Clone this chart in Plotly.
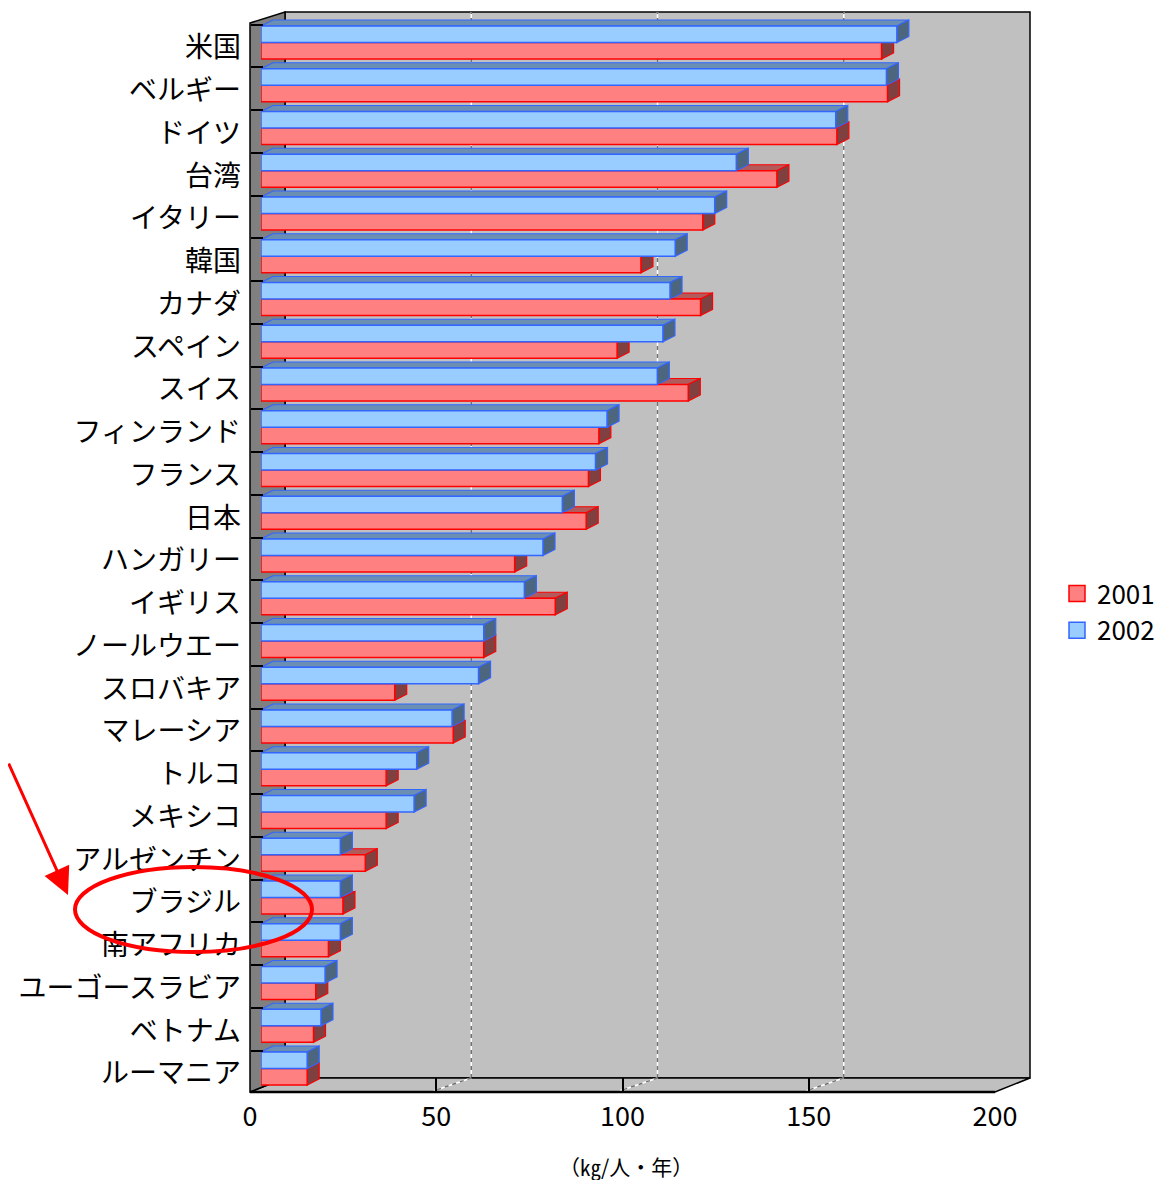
import plotly.graph_objects as go

countries = ["米国", "ベルギー", "ドイツ", "台湾", "イタリー", "韓国", "カナダ", "スペイン",
             "スイス", "フィンランド", "フランス", "日本", "ハンガリー", "イギリス", "ノールウエー",
             "スロバキア", "マレーシア", "トルコ", "メキシコ", "アルゼンチン", "ブラジル",
             "南アフリカ", "ユーゴースラビア", "ベトナム", "ルーマニア"]
v2001 = [166.6, 168.2, 154.6, 138.5, 118.6, 102.0, 118.0, 95.6, 114.7, 90.7, 87.9, 87.3,
         68.1, 79.0, 59.8, 35.9, 51.6, 33.6, 33.6, 28.0, 22.0, 18.1, 14.7, 14.1, 12.4]
v2002 = [170.7, 167.9, 154.3, 127.6, 121.8, 111.2, 109.8, 107.9, 106.4, 92.9, 89.8, 80.9,
         75.7, 70.7, 59.8, 58.4, 51.3, 41.8, 41.1, 21.3, 21.3, 21.3, 17.2, 16.1, 12.4]
series_names = ["2001", "2002"]
x_ticks = [0, 50, 100, 150, 200]
axis_title = "（㎏/人・年）"

# ---- geometry helpers (reference-pixel -> paper) ----
OFF = 8                       # page body margin of the html page
W_FIG, H_FIG = 1166 - OFF, 1180 - OFF
L, R, T, B = 250, 1006, 12, 1092
def px(x):
    return (x - L) / (R - L)
def py(y):
    return (B - y) / (B - T)

PX_PER_UNIT = 3.725
DEPTH = 35            # frame depth in px (x)
DEPTH_Y = 14          # frame depth in px (y)
BAR_DX = 12 / PX_PER_UNIT
BAR_DY = 6 / 42.75
BW = 16.5 / 42.75

red_front, red_line, red_top, red_side = "#FF8080", "#FF0000", "#B35A5A", "#804040"
blue_front, blue_line, blue_top, blue_side = "#99CCFF", "#3366FF", "#6B8FB3", "#4D6680"

shapes = []
# back wall
shapes.append(dict(type="rect", xref="paper", yref="paper", layer="below",
                   x0=px(L + DEPTH), x1=px(995 + DEPTH), y0=py(B - DEPTH_Y), y1=py(T),
                   fillcolor="#C0C0C0", line=dict(color="black", width=1.5)))
# back-wall gridlines
for v in x_ticks[1:-1]:
    xb = L + v * PX_PER_UNIT + DEPTH
    for col, dash in (("white", "solid"), ("#707070", "4px,4px")):
        shapes.append(dict(type="line", xref="paper", yref="paper", layer="below",
                           x0=px(xb), x1=px(xb), y0=py(B - DEPTH_Y), y1=py(T),
                           line=dict(color=col, width=1.5, dash=dash)))
# floor
shapes.append(dict(type="path", xref="paper", yref="paper", layer="below",
                   path=f"M {px(L)},{py(B)} L {px(L+DEPTH)},{py(B-DEPTH_Y)} L {px(995+DEPTH)},{py(B-DEPTH_Y)} L {px(995)},{py(B)} Z",
                   fillcolor="#C0C0C0", line=dict(color="black", width=1.5)))
for v in x_ticks[1:-1]:
    xb = L + v * PX_PER_UNIT + DEPTH
    xf = L + v * PX_PER_UNIT
    for col, dash in (("white", "solid"), ("#707070", "4px,4px")):
        shapes.append(dict(type="line", xref="paper", yref="paper", layer="below",
                           x0=px(xb), x1=px(xf - 3), y0=py(B - DEPTH_Y), y1=py(B - 1),
                           line=dict(color=col, width=1.5, dash=dash)))
# left wall
shapes.append(dict(type="path", xref="paper", yref="paper", layer="below",
                   path=f"M {px(L)},{py(T+11)} L {px(L+DEPTH)},{py(T)} L {px(L+DEPTH)},{py(B-DEPTH_Y)} L {px(L)},{py(B)} Z",
                   fillcolor="#808080", line=dict(color="black", width=1.5)))
# front axis line
shapes.append(dict(type="line", xref="paper", yref="paper", layer="below",
                   x0=px(L), x1=px(995), y0=py(B), y1=py(B),
                   line=dict(color="black", width=2.5)))

# 3D faces of bars (top and side), computed from the data
def faces(v, ya, yb, top_col, side_col, line_col):
    out = []
    out.append(dict(type="path", xref="x", yref="y", layer="below",
                    path=f"M 0,{ya} L {BAR_DX},{ya-BAR_DY} L {v+BAR_DX},{ya-BAR_DY} L {v},{ya} Z",
                    fillcolor=top_col, line=dict(color=line_col, width=1.2)))
    out.append(dict(type="path", xref="x", yref="y", layer="below",
                    path=f"M {v},{ya} L {v+BAR_DX},{ya-BAR_DY} L {v+BAR_DX},{yb-BAR_DY} L {v},{yb} Z",
                    fillcolor=side_col, line=dict(color=line_col, width=1.2)))
    return out

for i in range(len(countries)):
    shapes += faces(v2001[i], i, i + BW, red_top, red_side, red_line)
    shapes += faces(v2002[i], i - BW, i, blue_top, blue_side, blue_line)

# annotation ellipse
shapes.append(dict(type="circle", xref="paper", yref="paper", layer="above",
                   x0=px(75), x1=px(312), y0=py(952), y1=py(867),
                   line=dict(color="#FF0000", width=4)))

fig = go.Figure()
ypos = list(range(len(countries)))
fig.add_trace(go.Bar(orientation="h", y=ypos, x=v2001, offset=0, width=BW,
                     marker=dict(color=red_front, line=dict(color=red_line, width=1.5)),
                     showlegend=False, hoverinfo="x", name=series_names[0]))
fig.add_trace(go.Bar(orientation="h", y=ypos, x=v2002, offset=-BW, width=BW,
                     marker=dict(color=blue_front, line=dict(color=blue_line, width=1.5)),
                     showlegend=False, hoverinfo="x", name=series_names[1]))
# legend entries
fig.add_trace(go.Scatter(x=[None], y=[None], mode="markers", name=series_names[0],
                         marker=dict(symbol="square", size=19, color=red_front,
                                     line=dict(color=red_line, width=1.5))))
fig.add_trace(go.Scatter(x=[None], y=[None], mode="markers", name=series_names[1],
                         marker=dict(symbol="square", size=19, color=blue_front,
                                     line=dict(color=blue_line, width=1.5))))
# trace to carry the front value axis
fig.add_trace(go.Scatter(x=[None], y=[None], xaxis="x2", yaxis="y", showlegend=False,
                         hoverinfo="skip"))

font_main = "Noto Sans CJK JP"
fig.update_layout(
    width=W_FIG, height=H_FIG, autosize=False,
    margin=dict(l=L - OFF, r=W_FIG - (R - OFF), t=T - OFF, b=H_FIG - (B - OFF), autoexpand=False),
    paper_bgcolor="white", plot_bgcolor="rgba(0,0,0,0)",
    barmode="overlay",
    font=dict(family=font_main, color="black"),
    xaxis=dict(domain=[px(261), 1], range=[0, 200], visible=False, fixedrange=True,
               automargin=False),
    xaxis2=dict(domain=[0, px(995)], range=[0, 200], anchor="free", position=0,
                tickvals=x_ticks, ticks="inside", ticklen=14, tickcolor="black", tickwidth=1.5,
                showgrid=False, zeroline=False, showline=False, ticklabelstandoff=6,
                automargin=False,
                tickfont=dict(size=27, family=font_main)),
    yaxis=dict(range=[24.55, -0.7135], domain=[0, 1], anchor="free", position=0,
               tickmode="array", tickvals=[i + 0.12 for i in ypos], ticktext=countries,
               ticks="", showgrid=False, zeroline=False, showline=False, ticklabelstandoff=9,
               automargin=False,
               tickfont=dict(size=28, family=font_main),
               minor=dict(tickmode="array", tickvals=[i - 0.5 + 0.08 for i in range(len(countries) + 1)],
                          ticks="inside", ticklen=12, tickcolor="black", tickwidth=1.5, showgrid=False)),
    legend=dict(x=px(1057), y=py(612), xanchor="left", yanchor="middle",
                font=dict(size=26, family=font_main), bgcolor="rgba(0,0,0,0)",
                itemsizing="trace"),
    shapes=shapes,
    annotations=[
        dict(xref="paper", yref="paper", x=px(68), y=py(895), ax=-72, ay=-133,
             axref="pixel", ayref="pixel", text="", showarrow=True,
             arrowhead=2, arrowsize=1.8, arrowwidth=3, arrowcolor="#FF0000"),
        dict(xref="paper", yref="paper", x=px(626), y=py(1166), text=axis_title,
             showarrow=False, xanchor="center", yanchor="middle",
             font=dict(size=21, family=font_main, color="black")),
    ],
)

fig.write_html("out.html")
